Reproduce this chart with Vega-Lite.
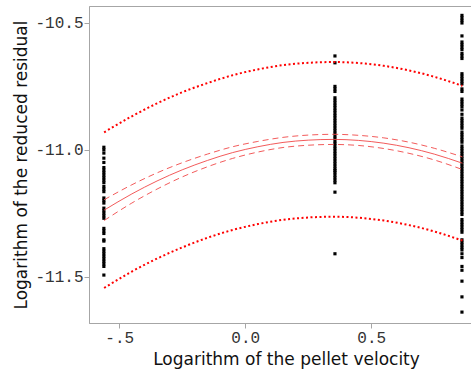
{
  "$schema": "https://vega.github.io/schema/vega-lite/v6.json",
  "autosize": "none",
  "width": 394,
  "height": 317,
  "padding": {"left": 89, "top": 6, "right": 0, "bottom": 48},
  "background": "white",
  "view": {"stroke": "#a6a6a6", "strokeWidth": 1},
  "config": {
    "axis": {
      "grid": false,
      "domainColor": "#a6a6a6",
      "tickColor": "#a6a6a6",
      "tickSize": 5,
      "labelFont": "Liberation Mono",
      "labelFontSize": 16,
      "labelColor": "#333333",
      "titleFont": "DejaVu Sans",
      "titleFontSize": 17,
      "titleFontWeight": "normal",
      "titleColor": "#111111"
    }
  },
  "datasets": {
    "curve": [
      {"x": -0.56, "fit": -11.238, "cilo": -11.279, "cihi": -11.197, "pilo": -11.545, "pihi": -10.931},
      {"x": -0.45, "fit": -11.174, "cilo": -11.210, "cihi": -11.138, "pilo": -11.480, "pihi": -10.868},
      {"x": -0.35, "fit": -11.123, "cilo": -11.155, "cihi": -11.091, "pilo": -11.429, "pihi": -10.817},
      {"x": -0.25, "fit": -11.079, "cilo": -11.107, "cihi": -11.051, "pilo": -11.385, "pihi": -10.773},
      {"x": -0.15, "fit": -11.042, "cilo": -11.067, "cihi": -11.017, "pilo": -11.347, "pihi": -10.737},
      {"x": -0.05, "fit": -11.011, "cilo": -11.034, "cihi": -10.988, "pilo": -11.316, "pihi": -10.706},
      {"x": 0.05, "fit": -10.988, "cilo": -11.009, "cihi": -10.967, "pilo": -11.293, "pihi": -10.683},
      {"x": 0.15, "fit": -10.971, "cilo": -10.991, "cihi": -10.951, "pilo": -11.276, "pihi": -10.666},
      {"x": 0.25, "fit": -10.962, "cilo": -10.982, "cihi": -10.942, "pilo": -11.267, "pihi": -10.657},
      {"x": 0.35, "fit": -10.959, "cilo": -10.979, "cihi": -10.939, "pilo": -11.264, "pihi": -10.654},
      {"x": 0.45, "fit": -10.963, "cilo": -10.983, "cihi": -10.943, "pilo": -11.268, "pihi": -10.658},
      {"x": 0.55, "fit": -10.974, "cilo": -10.995, "cihi": -10.953, "pilo": -11.279, "pihi": -10.669},
      {"x": 0.65, "fit": -10.992, "cilo": -11.014, "cihi": -10.970, "pilo": -11.297, "pihi": -10.687},
      {"x": 0.75, "fit": -11.017, "cilo": -11.040, "cihi": -10.994, "pilo": -11.322, "pihi": -10.712},
      {"x": 0.862, "fit": -11.053, "cilo": -11.078, "cihi": -11.028, "pilo": -11.358, "pihi": -10.748}
    ],
    "pts": [
      {"x": -0.561, "y": -10.99}, {"x": -0.561, "y": -11.0}, {"x": -0.561, "y": -11.013}, {"x": -0.561, "y": -11.033},
      {"x": -0.561, "y": -11.05}, {"x": -0.561, "y": -11.07}, {"x": -0.561, "y": -11.08}, {"x": -0.561, "y": -11.09},
      {"x": -0.561, "y": -11.1}, {"x": -0.561, "y": -11.11}, {"x": -0.561, "y": -11.12}, {"x": -0.561, "y": -11.13},
      {"x": -0.561, "y": -11.145}, {"x": -0.561, "y": -11.155}, {"x": -0.561, "y": -11.165}, {"x": -0.561, "y": -11.19},
      {"x": -0.561, "y": -11.2}, {"x": -0.561, "y": -11.21}, {"x": -0.561, "y": -11.23}, {"x": -0.561, "y": -11.24},
      {"x": -0.561, "y": -11.25}, {"x": -0.561, "y": -11.26}, {"x": -0.561, "y": -11.27}, {"x": -0.561, "y": -11.31},
      {"x": -0.561, "y": -11.32}, {"x": -0.561, "y": -11.33}, {"x": -0.561, "y": -11.355}, {"x": -0.561, "y": -11.36},
      {"x": -0.561, "y": -11.39}, {"x": -0.561, "y": -11.4}, {"x": -0.561, "y": -11.41}, {"x": -0.561, "y": -11.42},
      {"x": -0.561, "y": -11.43}, {"x": -0.561, "y": -11.44}, {"x": -0.561, "y": -11.45}, {"x": -0.561, "y": -11.46},
      {"x": -0.561, "y": -11.494},
      {"x": 0.356, "y": -10.63}, {"x": 0.356, "y": -10.657}, {"x": 0.356, "y": -10.75}, {"x": 0.356, "y": -10.76},
      {"x": 0.356, "y": -10.77}, {"x": 0.356, "y": -10.795}, {"x": 0.356, "y": -10.805}, {"x": 0.356, "y": -10.815},
      {"x": 0.356, "y": -10.825}, {"x": 0.356, "y": -10.835}, {"x": 0.356, "y": -10.845}, {"x": 0.356, "y": -10.855},
      {"x": 0.356, "y": -10.865}, {"x": 0.356, "y": -10.875}, {"x": 0.356, "y": -10.885}, {"x": 0.356, "y": -10.895},
      {"x": 0.356, "y": -10.905}, {"x": 0.356, "y": -10.915}, {"x": 0.356, "y": -10.925}, {"x": 0.356, "y": -10.935},
      {"x": 0.356, "y": -10.945}, {"x": 0.356, "y": -10.955}, {"x": 0.356, "y": -10.965}, {"x": 0.356, "y": -10.975},
      {"x": 0.356, "y": -10.985}, {"x": 0.356, "y": -10.995}, {"x": 0.356, "y": -11.005}, {"x": 0.356, "y": -11.015},
      {"x": 0.356, "y": -11.025}, {"x": 0.356, "y": -11.035}, {"x": 0.356, "y": -11.045}, {"x": 0.356, "y": -11.055},
      {"x": 0.356, "y": -11.065}, {"x": 0.356, "y": -11.075}, {"x": 0.356, "y": -11.082}, {"x": 0.356, "y": -11.09},
      {"x": 0.356, "y": -11.1}, {"x": 0.356, "y": -11.11}, {"x": 0.356, "y": -11.12}, {"x": 0.356, "y": -11.13},
      {"x": 0.356, "y": -11.167}, {"x": 0.356, "y": -11.41},
      {"x": 0.86, "y": -10.47}, {"x": 0.86, "y": -10.48}, {"x": 0.86, "y": -10.49}, {"x": 0.86, "y": -10.5},
      {"x": 0.86, "y": -10.551}, {"x": 0.86, "y": -10.575}, {"x": 0.86, "y": -10.585}, {"x": 0.86, "y": -10.595},
      {"x": 0.86, "y": -10.605}, {"x": 0.86, "y": -10.62}, {"x": 0.86, "y": -10.63}, {"x": 0.86, "y": -10.64},
      {"x": 0.86, "y": -10.7}, {"x": 0.86, "y": -10.71}, {"x": 0.86, "y": -10.72}, {"x": 0.86, "y": -10.73},
      {"x": 0.86, "y": -10.74}, {"x": 0.86, "y": -10.76}, {"x": 0.86, "y": -10.77}, {"x": 0.86, "y": -10.8},
      {"x": 0.86, "y": -10.81}, {"x": 0.86, "y": -10.82}, {"x": 0.86, "y": -10.83}, {"x": 0.86, "y": -10.843},
      {"x": 0.86, "y": -10.86}, {"x": 0.86, "y": -10.875}, {"x": 0.86, "y": -10.885}, {"x": 0.86, "y": -10.895},
      {"x": 0.86, "y": -10.905}, {"x": 0.86, "y": -10.915}, {"x": 0.86, "y": -10.93}, {"x": 0.86, "y": -10.94},
      {"x": 0.86, "y": -10.95}, {"x": 0.86, "y": -10.96}, {"x": 0.86, "y": -10.97}, {"x": 0.86, "y": -10.985},
      {"x": 0.86, "y": -10.995}, {"x": 0.86, "y": -11.005}, {"x": 0.86, "y": -11.015}, {"x": 0.86, "y": -11.025},
      {"x": 0.86, "y": -11.035}, {"x": 0.86, "y": -11.045}, {"x": 0.86, "y": -11.055}, {"x": 0.86, "y": -11.065},
      {"x": 0.86, "y": -11.075}, {"x": 0.86, "y": -11.085}, {"x": 0.86, "y": -11.095}, {"x": 0.86, "y": -11.105},
      {"x": 0.86, "y": -11.115}, {"x": 0.86, "y": -11.125}, {"x": 0.86, "y": -11.135}, {"x": 0.86, "y": -11.145},
      {"x": 0.86, "y": -11.155}, {"x": 0.86, "y": -11.165}, {"x": 0.86, "y": -11.175}, {"x": 0.86, "y": -11.185},
      {"x": 0.86, "y": -11.195}, {"x": 0.86, "y": -11.205}, {"x": 0.86, "y": -11.215}, {"x": 0.86, "y": -11.225},
      {"x": 0.86, "y": -11.235}, {"x": 0.86, "y": -11.245}, {"x": 0.86, "y": -11.255}, {"x": 0.86, "y": -11.275},
      {"x": 0.86, "y": -11.285}, {"x": 0.86, "y": -11.295}, {"x": 0.86, "y": -11.305}, {"x": 0.86, "y": -11.315},
      {"x": 0.86, "y": -11.325}, {"x": 0.86, "y": -11.355}, {"x": 0.86, "y": -11.365}, {"x": 0.86, "y": -11.375},
      {"x": 0.86, "y": -11.385}, {"x": 0.86, "y": -11.395}, {"x": 0.86, "y": -11.41}, {"x": 0.86, "y": -11.425},
      {"x": 0.86, "y": -11.46}, {"x": 0.86, "y": -11.475}, {"x": 0.86, "y": -11.518}, {"x": 0.86, "y": -11.58},
      {"x": 0.86, "y": -11.64}
    ]
  },
  "layer": [
    {
      "data": {"name": "pts"},
      "mark": {"type": "point", "shape": "square", "filled": true, "size": 10, "color": "#000000", "opacity": 1},
      "encoding": {
        "x": {
          "field": "x", "type": "quantitative",
          "scale": {"domain": [-0.62, 0.9435], "nice": false, "zero": false},
          "axis": {
            "title": "Logarithm of the pellet velocity",
            "values": [-0.5, 0, 0.5],
            "labelExpr": "datum.value == -0.5 ? '-.5' : datum.value == 0 ? '0.0' : '0.5'",
            "labelPadding": 1,
            "titlePadding": 6
          }
        },
        "y": {
          "field": "y", "type": "quantitative",
          "scale": {"domain": [-11.683, -10.433], "nice": false, "zero": false},
          "axis": {
            "title": "Logarithm of the reduced residual",
            "values": [-11.5, -11, -10.5],
            "labelExpr": "datum.value == -11.5 ? '-11.5' : datum.value == -11 ? '-11.0' : '-10.5'",
            "labelPadding": 1,
            "titlePadding": 4
          }
        }
      }
    },
    {
      "data": {"name": "curve"},
      "mark": {"type": "line", "color": "#f04848", "strokeWidth": 0.9, "interpolate": "monotone"},
      "encoding": {"x": {"field": "x", "type": "quantitative"}, "y": {"field": "fit", "type": "quantitative"}}
    },
    {
      "data": {"name": "curve"},
      "mark": {"type": "line", "color": "#f04848", "strokeWidth": 0.9, "strokeDash": [6, 4], "interpolate": "monotone"},
      "encoding": {"x": {"field": "x", "type": "quantitative"}, "y": {"field": "cilo", "type": "quantitative"}}
    },
    {
      "data": {"name": "curve"},
      "mark": {"type": "line", "color": "#f04848", "strokeWidth": 0.9, "strokeDash": [6, 4], "interpolate": "monotone"},
      "encoding": {"x": {"field": "x", "type": "quantitative"}, "y": {"field": "cihi", "type": "quantitative"}}
    },
    {
      "data": {"name": "curve"},
      "mark": {"type": "line", "color": "#ff0000", "strokeWidth": 2, "strokeDash": [2, 2.5], "interpolate": "monotone"},
      "encoding": {"x": {"field": "x", "type": "quantitative"}, "y": {"field": "pilo", "type": "quantitative"}}
    },
    {
      "data": {"name": "curve"},
      "mark": {"type": "line", "color": "#ff0000", "strokeWidth": 2, "strokeDash": [2, 2.5], "interpolate": "monotone"},
      "encoding": {"x": {"field": "x", "type": "quantitative"}, "y": {"field": "pihi", "type": "quantitative"}}
    }
  ]
}
